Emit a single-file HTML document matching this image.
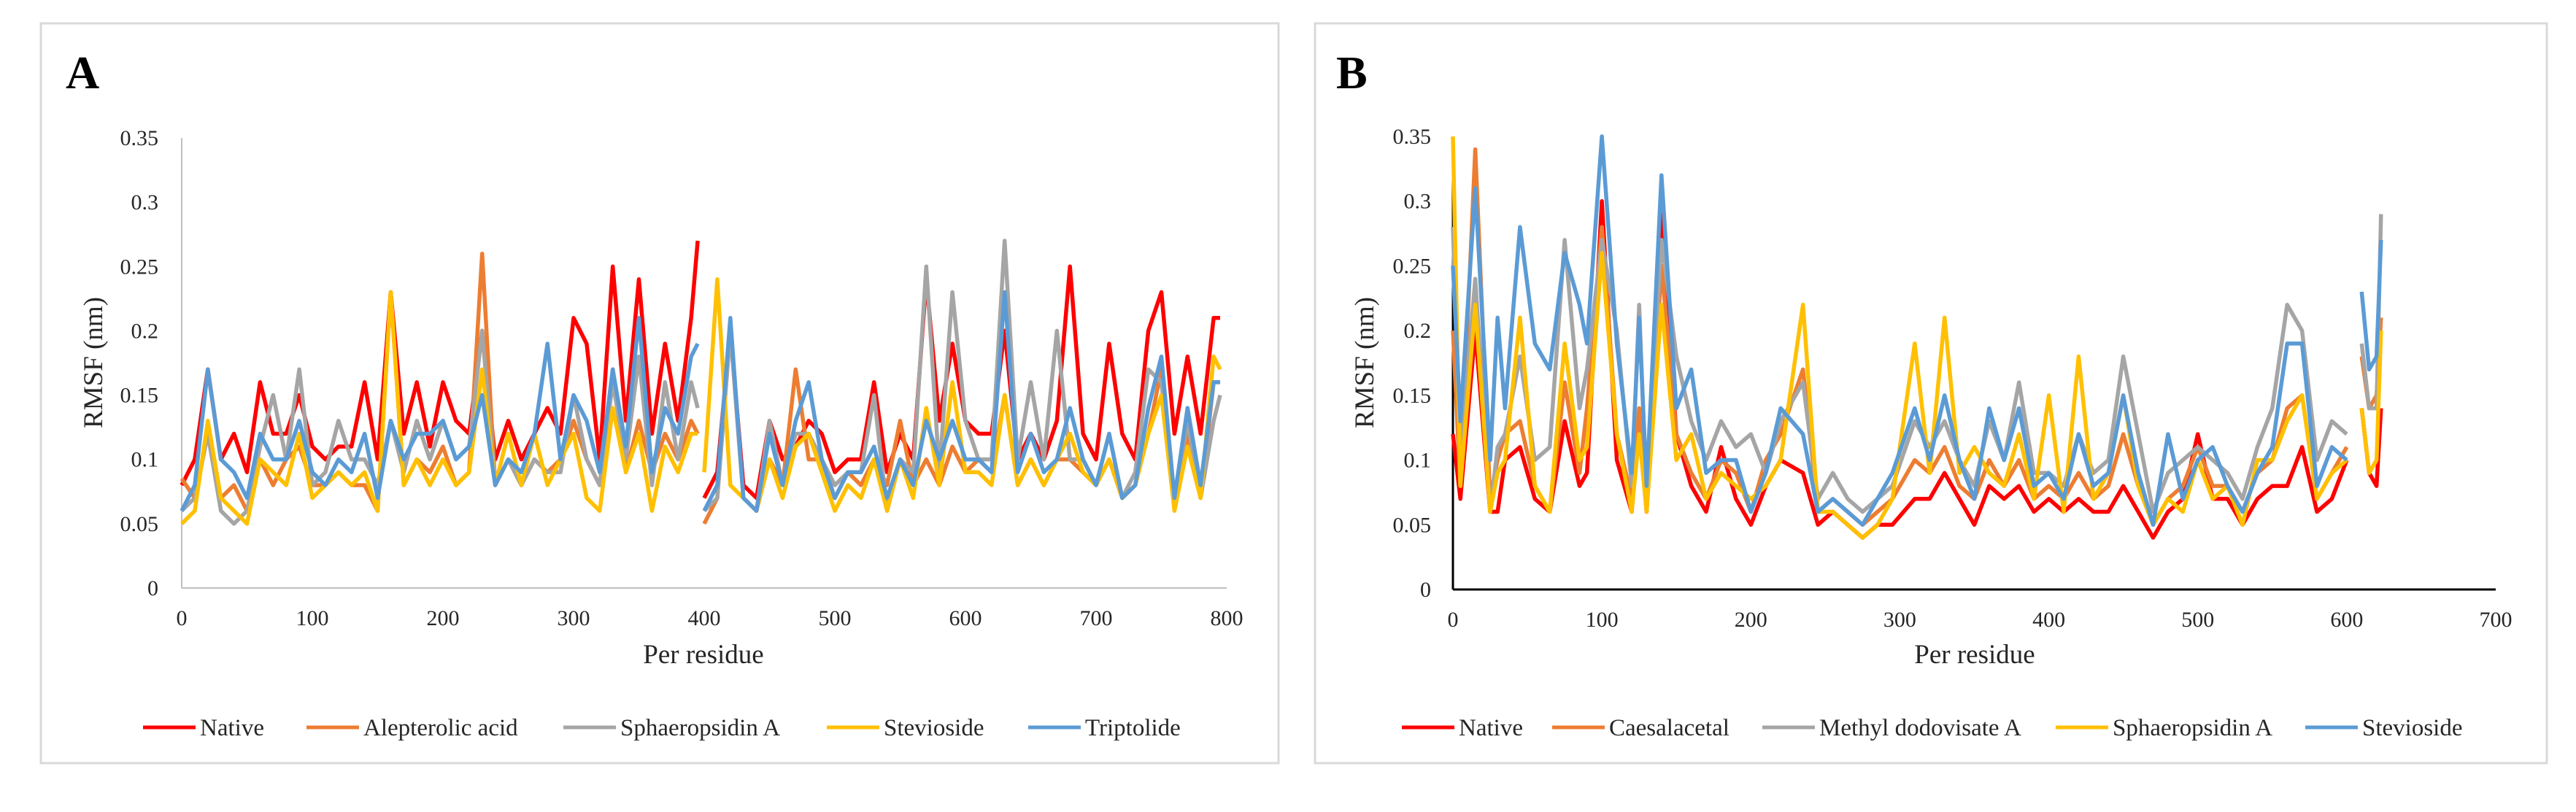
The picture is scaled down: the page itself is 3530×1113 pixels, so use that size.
<!DOCTYPE html>
<html><head><meta charset="utf-8"><style>
html,body{margin:0;padding:0;background:#fff;}
svg{display:block;font-family:"Liberation Serif",serif;}
</style></head><body>
<svg id="chart" width="3530" height="1113" viewBox="0 0 3530 1113" xmlns="http://www.w3.org/2000/svg">
<rect x="0" y="0" width="3530" height="1113" fill="#fff"/>
<rect x="56" y="32" width="1696" height="1014" fill="none" stroke="#d9d9d9" stroke-width="3"/>
<rect x="1802" y="32" width="1688" height="1014" fill="none" stroke="#d9d9d9" stroke-width="3"/>
<text x="90" y="121" font-size="64" font-weight="bold">A</text>
<text x="1831" y="121" font-size="64" font-weight="bold">B</text>
<g id="gA"></g><g id="gB"></g>
</svg>
<script>
// ---------- Panel A data ----------
const residuesA = [0,10,20,30,40,50,60,70,80,90,100,110,120,130,140,150,160,170,180,190,200,210,220,230,240,250,260,270,280,290,300,310,320,330,340,350,360,370,380,390,395,398,400,410,420,430,440,450,460,470,480,490,500,510,520,530,540,550,560,570,580,590,600,610,620,630,640,650,660,670,680,690,700,710,720,730,740,750,760,770,780,790,795];
const nativeA = [.08,.1,.17,.1,.12,.09,.16,.12,.12,.15, .11,.1,.11,.11,.16,.1,.23,.12,.16,.11, .16,.13,.12,.2,.1,.13,.1,.12,.14,.12, .21,.19,.1,.25,.13,.24,.12,.19,.13,.21, .27,null, .07,.09,.2,.08,.07,.13,.1,.11,.13,.12, .09,.1,.1,.16,.09,.12,.1,.24,.13,.19, .13,.12,.12,.2,.1,.12,.1,.13,.25,.12, .1,.19,.12,.1,.2,.23,.12,.18,.12,.21, .21];
const alepterolicA = [.085,.07,.12,.07,.08,.06,.1,.08,.1,.11, .08,.08,.09,.08,.08,.06,.23,.08,.1,.09, .11,.08,.09,.26,.08,.1,.08,.1,.09,.1, .13,.1,.08,.17,.09,.13,.09,.12,.1,.13, .12,null, .05,.07,.2,.07,.06,.1,.08,.17,.1,.1, .07,.09,.08,.1,.08,.13,.08,.1,.08,.11, .09,.1,.09,.15,.08,.1,.08,.1,.1,.09, .08,.1,.07,.08,.12,.17,.07,.12,.07,.16, .16];
const sphaeropsidinA = [.06,.07,.12,.06,.05,.06,.11,.15,.1,.17, .08,.09,.13,.1,.1,.08,.13,.09,.13,.1, .13,.1,.11,.2,.08,.1,.08,.1,.09,.09, .15,.1,.08,.16,.1,.18,.08,.16,.1,.16, .14,null, .06,.07,.2,.07,.06,.13,.08,.12,.12,.1, .08,.09,.09,.15,.06,.1,.09,.25,.09,.23, .13,.1,.1,.27,.1,.16,.1,.2,.1,.1, .08,.12,.07,.09,.17,.16,.07,.13,.07,.13, .15];
const steviosideA = [.05,.06,.13,.07,.06,.05,.1,.09,.08,.12, .07,.08,.09,.08,.09,.06,.23,.08,.1,.08, .1,.08,.09,.17,.08,.12,.08,.12,.08,.1, .12,.07,.06,.14,.09,.12,.06,.11,.09,.12, .12,null, .09,.24,.08,.07,.06,.1,.07,.11,.12,.09, .06,.08,.07,.1,.06,.1,.07,.14,.08,.16, .09,.09,.08,.15,.08,.1,.08,.1,.12,.09, .08,.1,.07,.08,.12,.15,.06,.11,.07,.18, .17];
const triptolideA = [.06,.08,.17,.1,.09,.07,.12,.1,.1,.13, .09,.08,.1,.09,.12,.07,.13,.1,.12,.12, .13,.1,.11,.15,.08,.1,.09,.12,.19,.1, .15,.13,.09,.17,.11,.21,.09,.14,.12,.18, .19,null, .06,.08,.21,.07,.06,.12,.08,.13,.16,.1, .07,.09,.09,.11,.07,.1,.08,.13,.1,.13, .1,.1,.09,.23,.09,.12,.09,.1,.14,.1, .08,.12,.07,.08,.14,.18,.07,.14,.08,.16, .16];
const namesA = ["Native","Alepterolic acid","Sphaeropsidin A","Stevioside","Triptolide"];
const xTicksA = [0,100,200,300,400,500,600,700,800];
// ---------- Panel B data ----------
const residuesB = [0,5,15,25,30,35,45,55,65,75,85,90,100,110,120,125,130,140,150,160,170,180,190,200,210,220,235,245,255,265,275,285,295,310,320,330,340,350,360,370,380,390,400,410,420,430,440,450,460,470,480,490,500,510,520,530,540,550,560,570,580,590,600,605,610,615,620,623];
const nativeB = [.12,.07,.2,.06,.06,.1,.11,.07,.06,.13, .08,.09,.30,.1,.06,.13,.06,.29,.12,.08, .06,.11,.07,.05,.08,.1,.09,.05,.06,.05, .04,.05,.05,.07,.07,.09,.07,.05,.08,.07, .08,.06,.07,.06,.07,.06,.06,.08,.06,.04, .06,.07,.12,.07,.07,.05,.07,.08,.08,.11, .06,.07,.1,null,.14,.09,.08,.14];
const caesalacetalB = [.2,.08,.34,.07,.1,.12,.13,.08,.06,.16, .09,.14,.28,.12,.07,.14,.06,.25,.12,.09, .07,.1,.09,.06,.1,.12,.17,.06,.07,.06, .05,.06,.07,.1,.09,.11,.08,.07,.1,.08, .1,.07,.08,.07,.09,.07,.08,.12,.08,.05, .07,.08,.11,.08,.08,.06,.09,.1,.14,.15, .07,.09,.11,null,.18,.14,.15,.21];
const methylB = [.28,.1,.24,.06,.11,.12,.18,.1,.11,.27, .14,.17,.27,.2,.08,.22,.07,.27,.18,.13, .1,.13,.11,.12,.09,.13,.16,.07,.09,.07, .06,.07,.08,.13,.11,.13,.1,.08,.13,.1, .16,.09,.09,.08,.12,.09,.1,.18,.12,.06, .09,.1,.11,.1,.09,.07,.11,.14,.22,.2, .1,.13,.12,null,.19,.14,.14,.29];
const sphaeropsidinB = [.35,.08,.22,.06,.09,.1,.21,.08,.06,.19, .1,.11,.26,.12,.06,.12,.06,.22,.1,.12, .07,.09,.08,.07,.08,.1,.22,.06,.06,.05, .04,.05,.07,.19,.09,.21,.09,.11,.09,.08, .12,.07,.15,.06,.18,.07,.09,.15,.08,.05, .07,.06,.1,.07,.08,.05,.1,.1,.13,.15, .07,.09,.1,null,.14,.09,.1,.2];
const steviosideB = [.25,.13,.31,.1,.21,.14,.28,.19,.17,.26, .22,.19,.35,.19,.09,.21,.08,.32,.14,.17, .09,.1,.1,.06,.09,.14,.12,.06,.07,.06, .05,.07,.09,.14,.1,.15,.1,.07,.14,.1, .14,.08,.09,.07,.12,.08,.09,.15,.09,.05, .12,.07,.1,.11,.08,.06,.09,.11,.19,.19, .08,.11,.1,null,.23,.17,.18,.27];
const namesB = ["Native","Caesalacetal","Methyl dodovisate A","Sphaeropsidin A","Stevioside"];
const xTicksB = [0,100,200,300,400,500,600,700];
const yTicks = [0,0.05,0.1,0.15,0.2,0.25,0.3,0.35];
const yTickLabels = ["0","0.05","0.1","0.15","0.2","0.25","0.3","0.35"];
const colors = ["#ff0000","#ed7d31","#a5a5a5","#ffc000","#5b9bd5"];

const NS="http://www.w3.org/2000/svg";
function mk(tag, parent){const e=document.createElementNS(NS,tag);parent.appendChild(e);return e;}

function drawPanel(g, cfg){
  const sx=v=>cfg.x0+(v-cfg.xmin)/(cfg.xmax-cfg.xmin)*(cfg.x1-cfg.x0);
  const sy=v=>cfg.y0-(v/0.35)*(cfg.y0-cfg.y1);
  const ya=mk('line',g);ya.setAttribute('x1',cfg.x0);ya.setAttribute('x2',cfg.x0);ya.setAttribute('y1',cfg.y1);ya.setAttribute('y2',cfg.y0);
  ya.setAttribute('stroke',cfg.axisColor);ya.setAttribute('stroke-width',cfg.axisW);
  
  
  const xa=mk('line',g);xa.setAttribute('x1',cfg.x0);xa.setAttribute('x2',cfg.x1);xa.setAttribute('y1',cfg.y0);xa.setAttribute('y2',cfg.y0);
  xa.setAttribute('stroke',cfg.axisColor);xa.setAttribute('stroke-width',cfg.axisW);
  
  
  yTicks.forEach((v,i)=>{
    const t=mk('text',g);t.textContent=yTickLabels[i];
    t.setAttribute('x',cfg.yLabX);t.setAttribute('y',sy(v)+10);t.setAttribute('text-anchor','end');t.setAttribute('font-size','30');t.setAttribute('fill','#262626');
    
    
  });
  cfg.xTicks.forEach(v=>{
    const t=mk('text',g);t.textContent=String(v);
    t.setAttribute('x',sx(v));t.setAttribute('y',cfg.y0+51);t.setAttribute('text-anchor','middle');t.setAttribute('font-size','30');t.setAttribute('fill','#262626');
    
    
  });
  const xt=mk('text',g);xt.textContent='Per residue';
  xt.setAttribute('x',cfg.titleX);xt.setAttribute('y',909);xt.setAttribute('text-anchor','middle');xt.setAttribute('font-size','37');xt.setAttribute('fill','#262626');
  
  
  const yt=mk('text',g);yt.textContent='RMSF (nm)';
  yt.setAttribute('transform','translate('+(cfg.yTitleX)+',497) rotate(-90)');yt.setAttribute('text-anchor','middle');yt.setAttribute('font-size','37');yt.setAttribute('fill','#262626');
  
  
  cfg.series.forEach((s,k)=>{
    let d='',pen=false;
    cfg.xs.forEach((x,i)=>{
      const v=s[i];
      if(v===null){pen=false;return;}
      d+=(pen?'L':'M')+sx(x).toFixed(1)+','+sy(v).toFixed(1);pen=true;
    });
    const p=mk('path',g);p.setAttribute('d',d);p.setAttribute('fill','none');p.setAttribute('stroke',colors[k]);
    p.setAttribute('stroke-width','5.5');p.setAttribute('stroke-linejoin','round');
    
    
  });
  cfg.names.forEach((n,k)=>{
    const L=cfg.legend[k];
    const lg=mk('g',g);
    
    
    const ln=mk('line',lg);ln.setAttribute('x1',L);ln.setAttribute('x2',L+72);ln.setAttribute('y1',997);ln.setAttribute('y2',997);
    ln.setAttribute('stroke',colors[k]);ln.setAttribute('stroke-width','5');
    
    
    const tx=mk('text',lg);tx.textContent=n;tx.setAttribute('x',L+78);tx.setAttribute('y',1008);tx.setAttribute('font-size','33');tx.setAttribute('fill','#262626');
    
    
  });
}
drawPanel(document.getElementById('gA'),{id:'panel-a',x0:249,x1:1681,xmin:0,xmax:800,y0:806,y1:189,axisColor:'#bfbfbf',axisW:2,
  yLabX:217,titleX:964,yTitleX:140,xTicks:xTicksA,xs:residuesA,series:[nativeA,alepterolicA,sphaeropsidinA,steviosideA,triptolideA],
  names:namesA,legend:[196,420,772,1133,1409]});
drawPanel(document.getElementById('gB'),{id:'panel-b',x0:1991,x1:3420,xmin:0,xmax:700,y0:808,y1:187,axisColor:'#000',axisW:3,
  yLabX:1961,titleX:2706,yTitleX:1882,xTicks:xTicksB,xs:residuesB,series:[nativeB,caesalacetalB,methylB,sphaeropsidinB,steviosideB],
  names:namesB,legend:[1921,2127,2415,2817,3159]});
</script>
</body></html>
